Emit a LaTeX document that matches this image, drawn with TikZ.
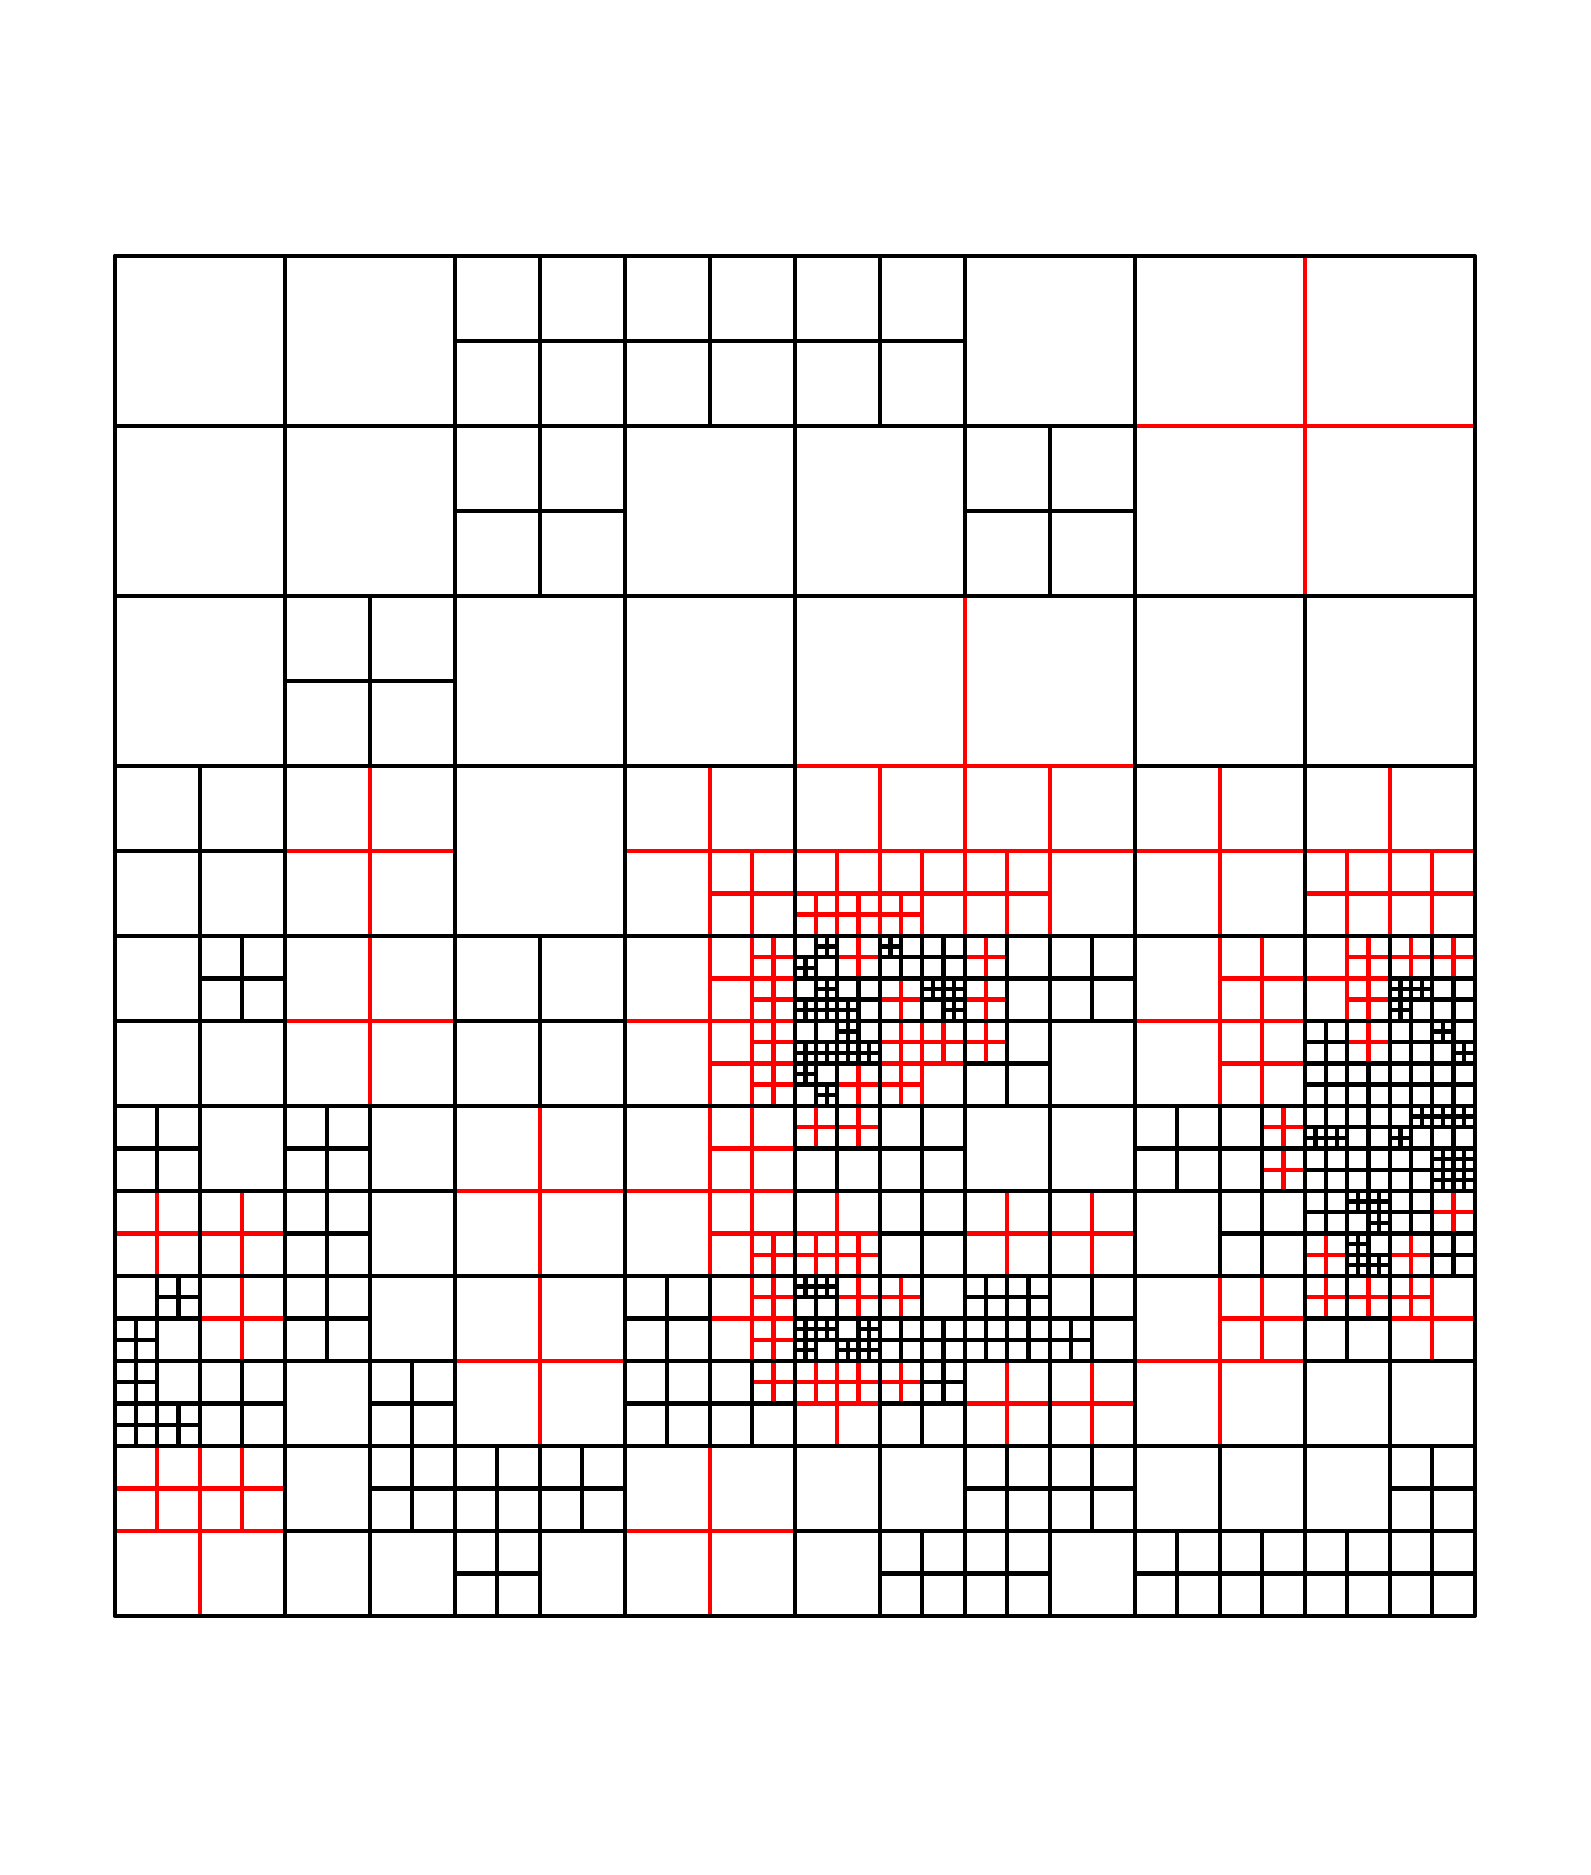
\documentclass[tikz,border=0pt]{standalone}
\newcommand\qcross[3]{\foreach \a/\b in {#3} {\draw[#1] (\a+#2/2,\b) -- ++(0,#2) (\a,\b+#2/2) -- ++(#2,0);}}
\begin{document}
\begin{tikzpicture}[x=1cm,y=-1cm,
  qb/.style={line width=0.72pt,black},
  qr/.style={line width=0.72pt,red}]
\useasboundingbox (-0.675,-1.505) rectangle (8.678,9.524);
% level 6 (size 1/8)
\qcross{qb}{0.125}{4.125/4, 4/4.125, 4.125/4.25, 4/4.375, 4.125/4.375, 4.25/4.375, 4.5/4, 4.75/4.25, 4.875/4.25, 4.875/4.375, 4/4.625, 4.125/4.625, 4.25/4.5, 4.25/4.625, 4.375/4.625, 4/4.75, 4.125/4.875, 7.5/4.25, 7.625/4.25, 7.5/4.375, 7.75/4.5, 7.875/4.625, 7/5.125, 7.125/5.125, 7.625/5, 7.5/5.125, 7.75/5, 7.875/5, 7.75/5.25, 7.875/5.25, 7.75/5.375, 7.875/5.375, 7.25/5.5, 7.375/5.5, 7.375/5.625, 7.25/5.75, 7.25/5.875, 7.375/5.875, 4/6, 4.125/6, 4/6.25, 4.125/6.25, 4/6.375, 4.375/6.25, 4.25/6.375, 4.375/6.375}
% level 5 (size 1/4)
\qcross{qb}{0.25}{4/4, 4/4.25, 4.25/4.25, 4.5/4, 4.75/4, 4.75/4.25, 4/4.5, 4.25/4.5, 4/4.75, 7.5/4.25, 7.75/4.25, 7/4.5, 7/4.75, 7.25/4.75, 7.5/4.5, 7.75/4.5, 7.5/4.75, 7.75/4.75, 7/5, 7.25/5, 7/5.25, 7.25/5.25, 7.5/5, 7.75/5, 7.5/5.25, 7.75/5.25, 7/5.5, 7.25/5.5, 7.25/5.75, 7.5/5.5, 7.75/5.75, 0.25/6, 0/6.25, 0/6.5, 0/6.75, 0.25/6.75, 4/6, 4/6.25, 4.25/6.25, 4.5/6.25, 4.75/6.25, 4.75/6.5, 5/6, 5.25/6, 5/6.25, 5.25/6.25, 5.5/6.25}
\qcross{qr}{0.25}{4/3.75, 4.25/3.75, 4.5/3.75, 3.75/4, 3.75/4.25, 3.75/4.5, 3.75/4.75, 4.25/4, 4.5/4.25, 4.25/4.75, 4.5/4.5, 4.75/4.5, 4.5/4.75, 5/4, 5/4.25, 5/4.5, 7.25/4, 7.25/4.25, 7.5/4, 7.75/4, 7.25/4.5, 3.75/5.75, 4/5, 4.25/5, 4/5.75, 4.25/5.75, 6.75/5, 6.75/5.25, 7/5.75, 7.75/5.5, 7.5/5.75, 3.75/6, 3.75/6.25, 3.75/6.5, 4.25/6, 4.5/6, 4/6.5, 4.25/6.5, 4.5/6.5, 7/6, 7.25/6, 7.5/6}
% level 4 (size 1/2)
\qcross{qb}{0.5}{0.5/4, 4/4, 4.5/4, 4/4.5, 5/4, 5.5/4, 5/4.5, 7.5/4, 7/4.5, 7.5/4.5, 0/5, 1/5, 1/5.5, 4/5, 4.5/5, 4.5/5.5, 6/5, 6.5/5, 6.5/5.5, 7/5, 7.5/5, 7/5.5, 7.5/5.5, 0/6, 0/6.5, 0.5/6.5, 1/6, 1.5/6.5, 3/6, 3/6.5, 3.5/6.5, 4/6, 4.5/6, 4.5/6.5, 5/6, 5.5/6, 7/6, 1.5/7, 2/7, 2.5/7, 2/7.5, 4.5/7.5, 5/7, 5.5/7, 5/7.5, 6/7.5, 6.5/7.5, 7.5/7, 7/7.5, 7.5/7.5}
\qcross{qr}{0.5}{3.5/3.5, 4/3.5, 4.5/3.5, 5/3.5, 7/3.5, 7.5/3.5, 3.5/4, 3.5/4.5, 4.5/4.5, 6.5/4, 6.5/4.5, 7/4, 0/5.5, 0.5/5.5, 3.5/5, 3.5/5.5, 4/5.5, 5/5.5, 5.5/5.5, 0.5/6, 3.5/6, 4/6.5, 5/6.5, 5.5/6.5, 6.5/6, 7.5/6, 0/7, 0.5/7}
% level 3 (size 1)
\qcross{qb}{1}{2/0, 3/0, 4/0, 2/1, 5/1, 1/2, 0/3, 0/4, 2/4, 4/4, 5/4, 7/4, 0/5, 1/5, 4/5, 5/5, 6/5, 7/5, 0/6, 1/6, 3/6, 4/6, 5/6, 7/6, 1/7, 2/7, 4/7, 5/7, 6/7, 7/7}
\qcross{qr}{1}{1/3, 3/3, 4/3, 5/3, 6/3, 7/3, 1/4, 3/4, 6/4, 2/5, 3/5, 2/6, 6/6, 0/7, 3/7}
% level 2 (size 2)
\qcross{qb}{2}{0/0, 2/0, 4/0, 0/2, 2/2, 6/2, 0/4, 2/4, 4/4, 6/4, 0/6, 2/6, 4/6, 6/6}
\qcross{qr}{2}{6/0, 4/2}
% level 1 and 0
\qcross{qb}{4}{0/0, 4/0, 0/4, 4/4}
\qcross{qb}{8}{0/0}
\draw[qb,line join=round] (0,0) rectangle (8,8);
\end{tikzpicture}
\end{document}
